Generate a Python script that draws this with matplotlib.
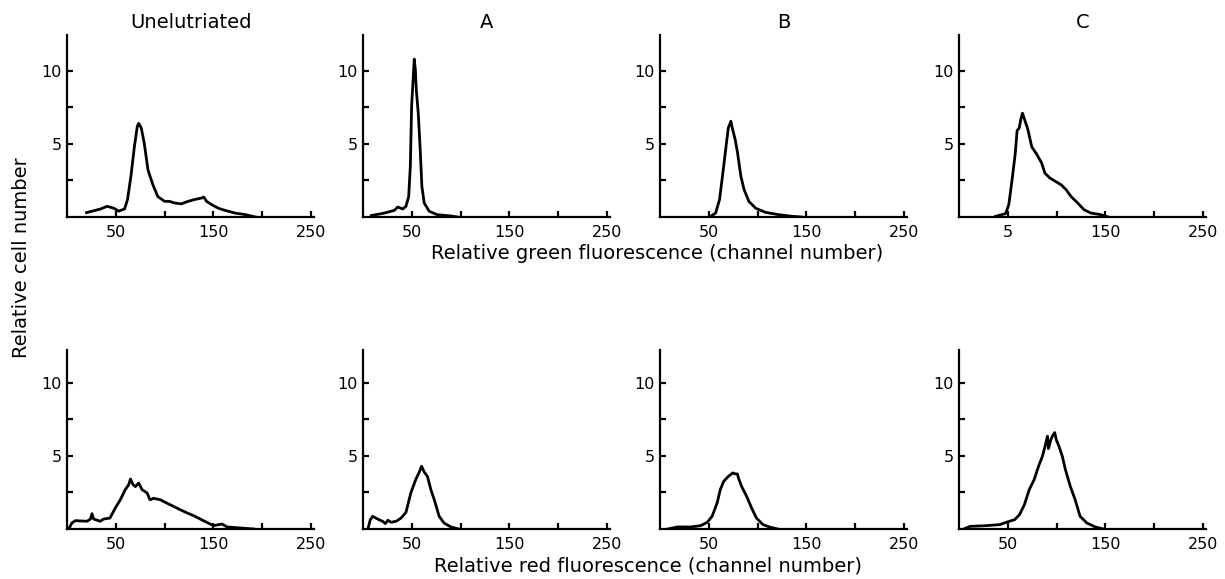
import matplotlib

matplotlib.use("Agg")
import matplotlib.pyplot as plt
from matplotlib.ticker import FixedLocator

plt.rcParams["font.family"] = ["DejaVu Sans"]

# ---- data (channel number, relative cell number) ----
panel_titles = ["Unelutriated", "A", "B", "C"]

green_unel_x = [20, 34.5, 41, 48, 53, 59, 62, 65.5, 69, 72, 73.4, 76, 79, 83, 88, 93, 100, 105,
                110, 117, 124, 131, 138, 140, 143, 148, 155, 162, 172, 183, 193]
green_unel_y = [0.3, 0.55, 0.73, 0.6, 0.4, 0.55, 1.2, 2.8, 4.8, 6.2, 6.4, 6.1, 5.1, 3.2, 2.2, 1.4,
                1.07, 1.07, 0.96, 0.9, 1.07, 1.2, 1.3, 1.37, 1.07, 0.85, 0.6, 0.45, 0.27, 0.16, 0.0]

green_a_x = [8.5, 22, 32, 35.6, 40.7, 44, 46.8, 48.5, 49.8, 51.5, 52.5, 53.6, 54.6, 56.6, 58.6,
             60.3, 62.7, 67.8, 76, 90, 96.6]
green_a_y = [0.1, 0.27, 0.45, 0.68, 0.55, 0.73, 1.4, 3.5, 7.6, 9.6, 10.8, 10.1, 8.7, 7.1, 4.6,
             2.1, 0.96, 0.39, 0.16, 0.07, 0.0]

green_b_x = [52, 57, 61, 64, 67.6, 70, 72.6, 74, 77, 79.4, 82.8, 86, 91, 98, 108, 121.6, 135, 145]
green_b_y = [0.05, 0.27, 1.2, 2.8, 4.8, 6.1, 6.55, 6.1, 5.3, 4.4, 2.8, 1.9, 1.07, 0.6, 0.32, 0.16,
             0.05, 0.0]

green_c_x = [37.6, 47.7, 51, 54.4, 57.7, 59.5, 61.7, 63.4, 65, 67, 70.5, 74.5, 79.5, 84.6, 88, 93,
             99.7, 104.7, 109.7, 114.8, 121.5, 128, 135, 145, 153]
green_c_y = [0.05, 0.23, 0.84, 2.56, 4.4, 5.9, 6.1, 6.7, 7.1, 6.7, 6.0, 4.8, 4.3, 3.7, 3.0, 2.67,
             2.4, 2.2, 1.87, 1.4, 0.96, 0.5, 0.27, 0.16, 0.0]

red_unel_x = [1.7, 5, 8.5, 20.5, 24, 25.6, 27.3, 34, 37.5, 44, 49.5, 54.6, 59.7, 63, 65, 67.6, 70,
              73.4, 76.8, 82, 85, 88.7, 95.6, 102, 109, 116, 123, 129.7, 136.5, 143, 150, 158.7,
              164, 177.5, 191]
red_unel_y = [0.0, 0.41, 0.57, 0.53, 0.68, 1.05, 0.68, 0.53, 0.68, 0.75, 1.44, 2.0, 2.7, 3.0, 3.42,
              3.04, 2.9, 3.15, 2.7, 2.47, 2.0, 2.1, 2.0, 1.78, 1.55, 1.32, 1.1, 0.91, 0.68, 0.46,
              0.23, 0.34, 0.14, 0.07, 0.0]

red_a_x = [5, 7.5, 10, 15, 20, 23, 25.4, 28.8, 34, 39, 44, 49, 54, 58, 60, 62.7, 66, 69.5, 73,
           78, 83, 90, 98]
red_a_y = [0.0, 0.64, 0.87, 0.68, 0.53, 0.37, 0.6, 0.46, 0.53, 0.75, 1.14, 2.47, 3.38, 3.95, 4.3,
           3.9, 3.6, 2.7, 2.0, 0.87, 0.41, 0.14, 0.0]

red_b_x = [8, 18, 31.6, 41.7, 48.4, 53.4, 58.5, 61.8, 65.2, 70, 74.6, 77, 79.3, 80.3, 83.7, 88.7,
           93.8, 98.8, 105.5, 112, 120.6]
red_b_y = [0.0, 0.14, 0.14, 0.23, 0.46, 0.87, 1.78, 2.7, 3.26, 3.6, 3.84, 3.77, 3.77, 3.5, 2.9,
           2.24, 1.44, 0.75, 0.3, 0.14, 0.0]

red_c_x = [4.7, 11.5, 28, 41.8, 48.5, 57, 62, 67, 72, 77, 81.5, 85.5, 89, 90.6, 91.6, 94, 95.6,
           98, 99.7, 102.4, 105.8, 109, 114, 119, 124, 131, 139.5, 148]
red_c_y = [0.0, 0.18, 0.23, 0.3, 0.46, 0.64, 0.98, 1.67, 2.7, 3.38, 4.3, 4.98, 5.9, 6.35, 5.5, 6.1,
           6.35, 6.6, 6.1, 5.66, 4.98, 4.06, 2.92, 2.0, 0.87, 0.41, 0.14, 0.0]

green_curves = [(green_unel_x, green_unel_y), (green_a_x, green_a_y),
                (green_b_x, green_b_y), (green_c_x, green_c_y)]
red_curves = [(red_unel_x, red_unel_y), (red_a_x, red_a_y),
              (red_b_x, red_b_y), (red_c_x, red_c_y)]

x_major = [50, 150, 250]
x_minor = [100, 200]
x_labels = ["50", "150", "250"]
x_labels_green_c = ["5", "150", "250"]  # misprint in the original figure
y_major = [5, 10]
y_minor = [2.5, 7.5]

# ---- layout (pixel positions measured on the 1225x579 original) ----
W, H = 1225, 579
lefts = [67, 363, 660, 959]
ax_w = 247
rows = [(217, 182, 12.45), (529, 179, 12.25)]  # baseline px, height px, y top


def style_axis(ax, ytop, labels):
    ax.set_xlim(0, 253)
    ax.set_ylim(0, ytop)
    for s in ("top", "right"):
        ax.spines[s].set_visible(False)
    for s in ("left", "bottom"):
        ax.spines[s].set_linewidth(1.6)
    ax.xaxis.set_major_locator(FixedLocator(x_major))
    ax.xaxis.set_minor_locator(FixedLocator(x_minor))
    ax.set_xticklabels(labels)
    ax.yaxis.set_major_locator(FixedLocator(y_major))
    ax.yaxis.set_minor_locator(FixedLocator(y_minor))
    ax.set_yticklabels(["5", "10"])
    ax.tick_params(which="both", direction="in", length=4.5, width=1.6, labelsize=11.5)
    ax.tick_params(axis="x", which="major", pad=6)
    ax.tick_params(axis="y", which="major", pad=4)


fig = plt.figure(figsize=(W / 100, H / 100), dpi=100)

for r, curves in enumerate([green_curves, red_curves]):
    base, hgt, ytop = rows[r]
    for c, (xs, ys) in enumerate(curves):
        ax = fig.add_axes([lefts[c] / W, (H - base) / H, ax_w / W, hgt / H])
        ax.plot(xs, ys, color="black", lw=2.0, solid_joinstyle="round")
        labels = x_labels_green_c if (r == 0 and c == 3) else x_labels
        style_axis(ax, ytop, labels)
        if r == 0:
            ax.set_title(panel_titles[c], fontsize=14, pad=5)

fig.text(657 / W, 1 - 253 / H, "Relative green fluorescence (channel number)",
         ha="center", va="center", fontsize=14)
fig.text(648 / W, 1 - 566 / H, "Relative red fluorescence (channel number)",
         ha="center", va="center", fontsize=14)
fig.text(22 / W, 1 - 258 / H, "Relative cell number", rotation=90,
         ha="center", va="center", fontsize=14)

fig.savefig("out.png", dpi=100)
